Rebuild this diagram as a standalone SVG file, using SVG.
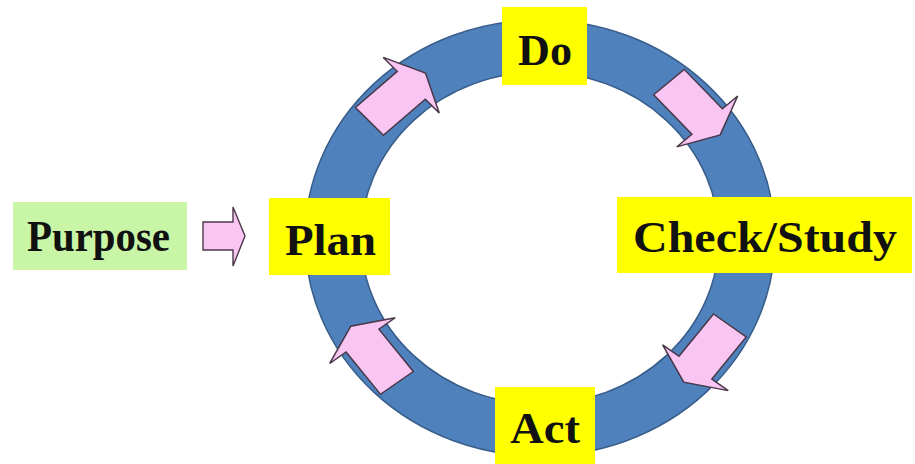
<svg xmlns="http://www.w3.org/2000/svg" width="915" height="464" viewBox="0 0 915 464">
  <defs>
    <style>
      .ring { fill: #4f81bd; stroke: #385d8a; stroke-width: 1.5; fill-rule: evenodd; }
      .cyc { fill: #f9c6f4; stroke: #4a3848; stroke-width: 1.4; stroke-linejoin: miter; }
      .box-y { fill: #ffff00; }
      .box-g { fill: #c9f6a6; }
      .lbl { font-family: "Liberation Serif", "Times New Roman", serif; font-weight: bold; font-size: 45px; fill: #111111; }
    </style>
    <!-- block arrow pointing along +y (clockwise tangent once rotated) -->
    <polygon id="cycArrow" points="-19,-36 19,-36 19,17 38,17 0,35 -38,17 -19,17"/>
  </defs>

  <rect width="915" height="464" fill="#ffffff"/>

  <!-- cycle ring -->
  <path class="ring" d="M305,238 a235,218 0 1,0 470,0 a235,218 0 1,0 -470,0 Z M361,238 a179,166 0 1,0 358,0 a179,166 0 1,0 -358,0 Z"/>

  <!-- connectors: arrows along the ring and the input arrow -->
  <g id="connectors">
    <g transform="translate(540,238) scale(1.08,1)">
      <use href="#cycArrow" class="cyc" vector-effect="non-scaling-stroke" transform="rotate(-133) translate(193,0)"/>
      <use href="#cycArrow" class="cyc" vector-effect="non-scaling-stroke" transform="rotate(-42) translate(193,0)"/>
      <use href="#cycArrow" class="cyc" vector-effect="non-scaling-stroke" transform="rotate(37) translate(193,0)"/>
      <use href="#cycArrow" class="cyc" vector-effect="non-scaling-stroke" transform="rotate(143) translate(193,0)"/>
    </g>
    <polygon class="cyc" points="203,222 233,222 233,207 245,236 233,266 233,250 203,250"/>
  </g>

  <g id="purpose">
    <rect class="box-g" x="13" y="202" width="174" height="68"/>
    <text class="lbl" x="27" y="251" textLength="143" lengthAdjust="spacingAndGlyphs">Purpose</text>
  </g>

  <g id="plan">
    <rect class="box-y" x="269" y="198" width="121" height="77"/>
    <text class="lbl" x="285" y="255" textLength="91" lengthAdjust="spacingAndGlyphs">Plan</text>
  </g>

  <g id="do">
    <rect class="box-y" x="502" y="7" width="85" height="78"/>
    <text class="lbl" x="518" y="65" textLength="54" lengthAdjust="spacingAndGlyphs">Do</text>
  </g>

  <g id="check-study">
    <rect class="box-y" x="617" y="197" width="295" height="76"/>
    <text class="lbl" x="633" y="252" textLength="264" lengthAdjust="spacingAndGlyphs">Check/Study</text>
  </g>

  <g id="act">
    <rect class="box-y" x="495" y="387" width="100" height="77"/>
    <text class="lbl" x="510" y="443" textLength="70" lengthAdjust="spacingAndGlyphs">Act</text>
  </g>
</svg>
